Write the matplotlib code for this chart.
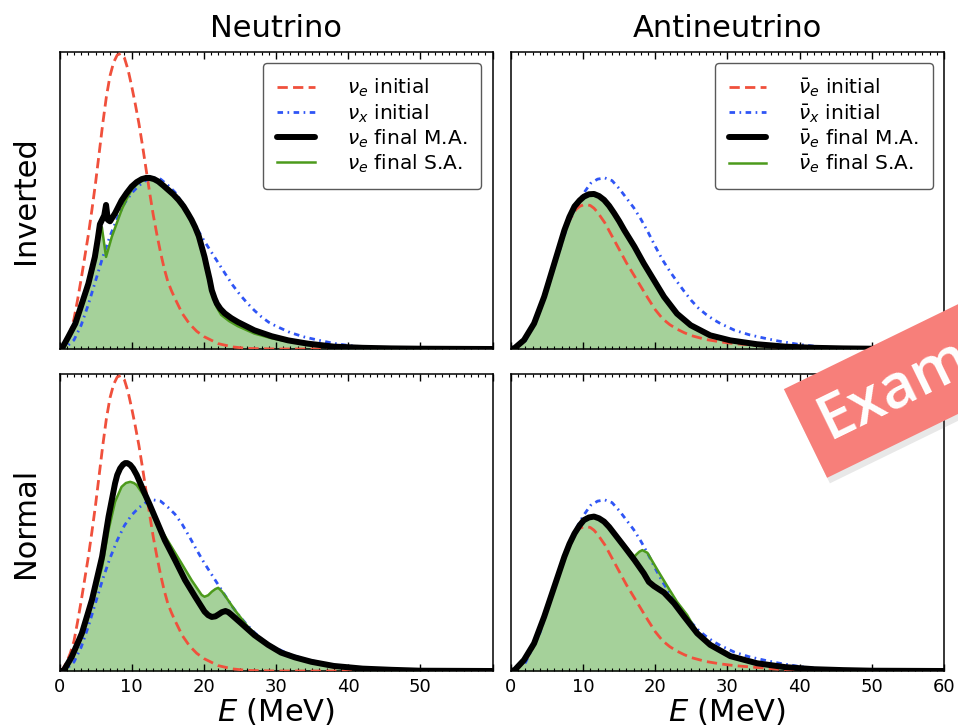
import matplotlib
matplotlib.use("Agg")
import matplotlib.pyplot as plt
from matplotlib.ticker import MultipleLocator
import matplotlib.patheffects as pe

# ---------------- data ----------------
# Neutrino initial spectra (shared by Inverted / Normal rows)
E_nue = [0, 0.5, 1, 1.5, 2, 2.5, 3, 3.5, 4, 4.5, 5, 5.5, 6, 6.5, 7, 7.5, 8, 8.5, 9, 9.5, 10, 10.5, 11,
         11.5, 12, 12.5, 13, 13.5, 14, 14.5, 15, 15.5, 16, 17, 18, 19, 20, 22, 24, 26, 30, 60]
nue_init = [0, 0.008, 0.03, 0.06, 0.1, 0.165, 0.235, 0.31, 0.385, 0.47, 0.56, 0.66, 0.76, 0.85, 0.92,
            0.965, 0.99, 0.995, 0.98, 0.94, 0.885, 0.825, 0.76, 0.685, 0.605, 0.525, 0.45, 0.385, 0.325,
            0.272, 0.228, 0.197, 0.17, 0.12, 0.085, 0.06, 0.042, 0.018, 0.007, 0.002, 0, 0]

E_nux = [0, 1, 2, 3, 4, 5, 6, 7, 8, 9, 10, 11, 12, 13, 14, 15, 16, 17, 18, 19, 20, 21, 22, 23, 24, 25,
         26, 27, 28, 29, 30, 32, 34, 36, 38, 40, 42, 45, 50, 60]
nux_init = [0, 0.008, 0.03, 0.08, 0.15, 0.23, 0.31, 0.38, 0.44, 0.49, 0.525, 0.55, 0.568, 0.576, 0.572,
            0.552, 0.528, 0.494, 0.452, 0.408, 0.366, 0.328, 0.29, 0.252, 0.215, 0.183, 0.155, 0.13,
            0.108, 0.09, 0.077, 0.055, 0.04, 0.029, 0.019, 0.012, 0.007, 0.003, 0.001, 0]

# Antineutrino initial spectra
E_anue = [0, 1, 2, 3, 4, 5, 6, 7, 8, 9, 9.5, 10, 10.5, 11, 11.5, 12, 13, 14, 15, 16, 17, 18, 19, 20, 21,
          22, 23, 24, 25, 27, 29, 31, 34, 37, 40, 45, 60]
anue_init = [0, 0.01, 0.035, 0.076, 0.134, 0.204, 0.283, 0.362, 0.428, 0.47, 0.48, 0.485, 0.486, 0.483,
             0.474, 0.46, 0.425, 0.38, 0.335, 0.29, 0.25, 0.21, 0.17, 0.132, 0.102, 0.082, 0.067, 0.055,
             0.045, 0.032, 0.024, 0.018, 0.012, 0.006, 0.002, 0, 0]

E_anux = [0, 2, 4, 6, 8, 9, 10, 11, 12, 13, 14, 15, 16, 17, 18, 19, 20, 21, 22, 23, 24, 25, 26, 27, 28,
          29, 31, 33, 35, 37, 40, 43, 46, 50, 60]
anux_init = [0, 0.028, 0.128, 0.277, 0.428, 0.478, 0.522, 0.557, 0.572, 0.576, 0.567, 0.54, 0.508, 0.476,
             0.437, 0.393, 0.345, 0.3, 0.262, 0.227, 0.194, 0.163, 0.137, 0.117, 0.1, 0.086, 0.063,
             0.048, 0.037, 0.027, 0.015, 0.007, 0.003, 0.001, 0]

# Inverted, neutrino, final spectra
E_inv_nu_ma = [0, 0.3, 1.2, 2.2, 3.1, 4.0, 4.9, 5.3, 5.6, 5.9, 6.2, 6.45, 6.7, 7.0, 7.7, 8.6, 9.3, 10.0,
               10.7, 11.4, 12.0, 12.5, 13.1, 13.7, 14.4, 15.1, 15.8, 16.5, 17.2, 17.8, 18.3, 18.8, 19.3,
               19.7, 20.1, 20.4, 20.8, 21.1, 21.5, 21.8, 22.3, 22.9, 23.8, 24.7, 27.0, 29.4, 31.7, 34.4,
               38, 42, 46, 50, 60]
inv_nu_ma = [0, 0, 0.04, 0.086, 0.153, 0.22, 0.31, 0.37, 0.42, 0.435, 0.45, 0.485, 0.435, 0.43, 0.457,
             0.50, 0.525, 0.547, 0.562, 0.572, 0.576, 0.576, 0.572, 0.564, 0.55, 0.535, 0.52, 0.502,
             0.48, 0.456, 0.435, 0.41, 0.38, 0.345, 0.31, 0.277, 0.235, 0.198, 0.17, 0.153, 0.135, 0.12,
             0.104, 0.091, 0.063, 0.043, 0.029, 0.018, 0.008, 0.004, 0.002, 0.001, 0]

E_inv_nu_sa = [0, 0.3, 1.2, 2.2, 3.1, 4.0, 4.9, 5.3, 5.87, 6.45, 7.25, 8.6, 9.3, 10.0, 10.7, 11.4, 12.0,
               12.5, 13.1, 13.7, 14.4, 15.1, 15.8, 16.5, 17.2, 17.8, 18.3, 18.8, 19.3, 19.7, 20.1, 20.4,
               20.8, 21.1, 21.5, 21.8, 22.4, 23.5, 24.7, 27.0, 29.4, 31.7, 34.4, 38, 42, 46, 50, 60]
inv_nu_sa = [0, 0, 0.04, 0.086, 0.153, 0.22, 0.31, 0.37, 0.41, 0.31, 0.378, 0.468, 0.505, 0.536, 0.555,
             0.57, 0.577, 0.578, 0.575, 0.567, 0.554, 0.54, 0.525, 0.507, 0.485, 0.46, 0.44, 0.413, 0.383,
             0.345, 0.305, 0.27, 0.225, 0.19, 0.16, 0.14, 0.115, 0.094, 0.077, 0.052, 0.036, 0.025, 0.016,
             0.008, 0.004, 0.002, 0.001, 0]

# Inverted, antineutrino, final spectra
E_inv_anu = [0, 0.5, 1.8, 3.2, 4.6, 6.0, 7.4, 8.1, 8.8, 9.5, 10.1, 10.8, 11.5, 12.2, 12.9, 13.6, 14.3, 15.0,
             15.7, 17.1, 18.4, 19.8, 21.2, 23.0, 24.9, 27.6, 30.4, 34.1, 38, 42, 46, 50, 60]
inv_anu_ma = [0, 0.003, 0.03, 0.086, 0.176, 0.288, 0.40, 0.445, 0.48, 0.5, 0.513, 0.521, 0.522, 0.515,
              0.502, 0.482, 0.457, 0.43, 0.40, 0.345, 0.288, 0.232, 0.176, 0.119, 0.08, 0.046, 0.029,
              0.016, 0.008, 0.004, 0.002, 0.001, 0]
inv_anu_sa = [0, 0.003, 0.03, 0.086, 0.176, 0.288, 0.40, 0.445, 0.48, 0.5, 0.513, 0.521, 0.522, 0.516,
              0.503, 0.484, 0.46, 0.434, 0.405, 0.35, 0.293, 0.237, 0.18, 0.122, 0.082, 0.047, 0.029,
              0.016, 0.008, 0.004, 0.002, 0.001, 0]

# Normal, neutrino, final spectra
E_nor_nu_ma = [0, 0.55, 1.7, 3.1, 4.5, 5.9, 6.8, 7.7, 8.0, 8.4, 8.8, 9.1, 9.4, 9.8, 10.2, 10.7, 11.2, 11.8,
               12.5, 13.2, 14.6, 16.0, 17.4, 18.8, 20.1, 20.6, 21.1, 21.6, 22.0, 22.5, 23.0, 23.4, 23.8,
               25.2, 27.0, 28.9, 30.7, 32.6, 34.9, 38, 42, 46, 50, 60]
nor_nu_ma = [0, 0, 0.048, 0.127, 0.24, 0.385, 0.52, 0.632, 0.66, 0.682, 0.695, 0.70, 0.70, 0.694, 0.682,
             0.66, 0.632, 0.598, 0.56, 0.52, 0.44, 0.374, 0.306, 0.25, 0.20, 0.188, 0.182, 0.184, 0.19,
             0.198, 0.202, 0.198, 0.19, 0.16, 0.121, 0.088, 0.062, 0.046, 0.031, 0.017, 0.008, 0.004,
             0.001, 0]

E_nor_nu_sa = [0, 0.55, 1.7, 3.1, 4.5, 5.9, 6.8, 7.7, 8.6, 9.2, 9.8, 10.3, 10.7, 11.8, 12.8, 14.1, 15.5,
               16.9, 18.3, 19.7, 20.1, 20.6, 21.1, 21.6, 22.0, 22.5, 22.9, 24.3, 26.1, 28.0, 29.8, 32.6,
               34.9, 38, 42, 46, 50, 60]
nor_nu_sa = [0, 0, 0.045, 0.12, 0.225, 0.35, 0.475, 0.57, 0.62, 0.633, 0.637, 0.633, 0.626, 0.587, 0.542,
             0.475, 0.419, 0.363, 0.306, 0.256, 0.25, 0.255, 0.267, 0.276, 0.28, 0.268, 0.255, 0.205,
             0.149, 0.104, 0.07, 0.043, 0.029, 0.016, 0.008, 0.004, 0.001, 0]

# Normal, antineutrino, final spectra
E_nor_anu_ma = [0, 0.5, 1.8, 3.2, 4.6, 6.0, 7.4, 8.1, 8.8, 9.5, 10.1, 10.8, 11.5, 12.2, 12.9, 13.6, 14.3,
                15.7, 17.1, 18.4, 19.1, 19.8, 21.2, 22.6, 24.0, 25.8, 27.6, 30.4, 34.1, 38, 42, 46, 50, 60]
nor_anu_ma = [0, 0.003, 0.037, 0.093, 0.183, 0.284, 0.385, 0.428, 0.463, 0.49, 0.508, 0.517, 0.52, 0.514,
              0.503, 0.485, 0.463, 0.419, 0.374, 0.329, 0.30, 0.286, 0.264, 0.228, 0.183, 0.127, 0.088,
              0.05, 0.026, 0.013, 0.006, 0.003, 0.001, 0]

E_nor_anu_sa = [0, 0.5, 1.8, 3.2, 4.6, 6.0, 7.4, 8.1, 8.8, 9.5, 10.1, 10.8, 11.5, 12.2, 12.9, 13.6, 14.3,
                15.7, 17.1, 17.4, 17.8, 18.2, 18.9, 20.3, 21.7, 23.0, 24.4, 25.8, 27.6, 30.4, 34.1, 38,
                42, 46, 50, 60]
nor_anu_sa = [0, 0.003, 0.037, 0.093, 0.183, 0.284, 0.385, 0.428, 0.463, 0.488, 0.505, 0.514, 0.517, 0.512,
              0.503, 0.487, 0.468, 0.425, 0.385, 0.393, 0.402, 0.407, 0.398, 0.34, 0.284, 0.233, 0.189,
              0.13, 0.09, 0.051, 0.027, 0.013, 0.006, 0.003, 0.001, 0]

col_titles = ["Neutrino", "Antineutrino"]
row_titles = ["Inverted", "Normal"]
x_ticks = [0, 10, 20, 30, 40, 50, 60]
labels_nu = [r"$\nu_e$ initial", r"$\nu_x$ initial", r"$\nu_e$ final M.A.", r"$\nu_e$ final S.A."]
labels_anu = [r"$\bar{\nu}_e$ initial", r"$\bar{\nu}_x$ initial", r"$\bar{\nu}_e$ final M.A.",
              r"$\bar{\nu}_e$ final S.A."]

# ---------------- styling ----------------
RED = "#f0503c"
BLUE = "#2f55f5"
GREEN = "#4c9a1c"
FILL = "#a5d19a"

fig = plt.figure(figsize=(9.58, 7.26), dpi=100)
W, H = 958, 726
def axes_px(l, t, r, b):
    return fig.add_axes([l / W, 1 - b / H, (r - l) / W, (b - t) / H])

ax_tl = axes_px(59.5, 52, 492.5, 349)
ax_tr = axes_px(511, 52, 944, 349)
ax_bl = axes_px(59.5, 374, 492.5, 671)
ax_br = axes_px(511, 374, 944, 671)

panels = [
    (ax_tl, E_nue, nue_init, E_nux, nux_init, E_inv_nu_ma, inv_nu_ma, E_inv_nu_sa, inv_nu_sa, labels_nu),
    (ax_tr, E_anue, anue_init, E_anux, anux_init, E_inv_anu, inv_anu_ma, E_inv_anu, inv_anu_sa, labels_anu),
    (ax_bl, E_nue, nue_init, E_nux, nux_init, E_nor_nu_ma, nor_nu_ma, E_nor_nu_sa, nor_nu_sa, labels_nu),
    (ax_br, E_anue, anue_init, E_anux, anux_init, E_nor_anu_ma, nor_anu_ma, E_nor_anu_sa, nor_anu_sa, labels_anu),
]

for i, (ax, Er, r, Eb, b, Em, m, Es, s, labs) in enumerate(panels):
    ax.fill_between(Es, s, 0, color=FILL, lw=0, zorder=1)
    l1, = ax.plot(Er, r, color=RED, lw=2.0, ls=(0, (3.7, 1.9)), zorder=3, label=labs[0])
    l2, = ax.plot(Eb, b, color=BLUE, lw=2.0, ls=(0, (2.0, 1.6, 0.6, 1.6)), zorder=3, label=labs[1])
    l4, = ax.plot(Es, s, color=GREEN, lw=1.8, zorder=4, label=labs[3], solid_joinstyle="round")
    l3, = ax.plot(Em, m, color="black", lw=4.3, zorder=5, label=labs[2],
                  solid_joinstyle="round", solid_capstyle="round")
    ax.set_xlim(0, 60)
    ax.set_ylim(0, 1.0)
    ax.set_yticks([])
    ax.xaxis.set_major_locator(MultipleLocator(10))
    ax.xaxis.set_minor_locator(MultipleLocator(1))
    ax.tick_params(axis="x", which="both", direction="in", top=True, bottom=True)
    ax.tick_params(axis="x", which="major", length=5, width=1, labelsize=13, pad=5)
    ax.tick_params(axis="x", which="minor", length=2.5, width=0.8)
    for sp in ax.spines.values():
        sp.set_linewidth(1.1)
    if i < 2:
        ax.tick_params(labelbottom=False)
        ax.set_title(col_titles[i], fontsize=22, pad=11)
        leg = ax.legend(handles=[l1, l2, l3, l4], loc="upper right", fontsize=14.5,
                        labelspacing=0.14, borderpad=0.7, handlelength=1.85,
                        handletextpad=1.6, fancybox=True, framealpha=1,
                        edgecolor="0.35", borderaxespad=0.55)
        leg.get_frame().set_linewidth(1.0)
    else:
        ax.set_xticks(x_ticks)
        lbls = [str(t) for t in x_ticks]
        if i == 2:
            lbls[-1] = ""
        ax.set_xticklabels(lbls)
        ax.set_xlabel(r"$E$ (MeV)", fontsize=22, labelpad=0)
    if i % 2 == 0:
        ax.set_ylabel(row_titles[i // 2], fontsize=22, labelpad=14)

# Watermark banner
t = fig.text(0.858, 0.414, "Example", rotation=26, rotation_mode="anchor",
             ha="left", va="center", fontsize=44, color="white", fontweight="semibold",
             family="Open Sans",
             bbox=dict(boxstyle="square,pad=0.3", fc="#f77f7a", ec="none"), zorder=20)
t.get_bbox_patch().set_path_effects([pe.SimplePatchShadow(offset=(2, -4), shadow_rgbFace="0.4", alpha=0.15),
                                     pe.Normal()])

fig.savefig("out.png", dpi=100)
